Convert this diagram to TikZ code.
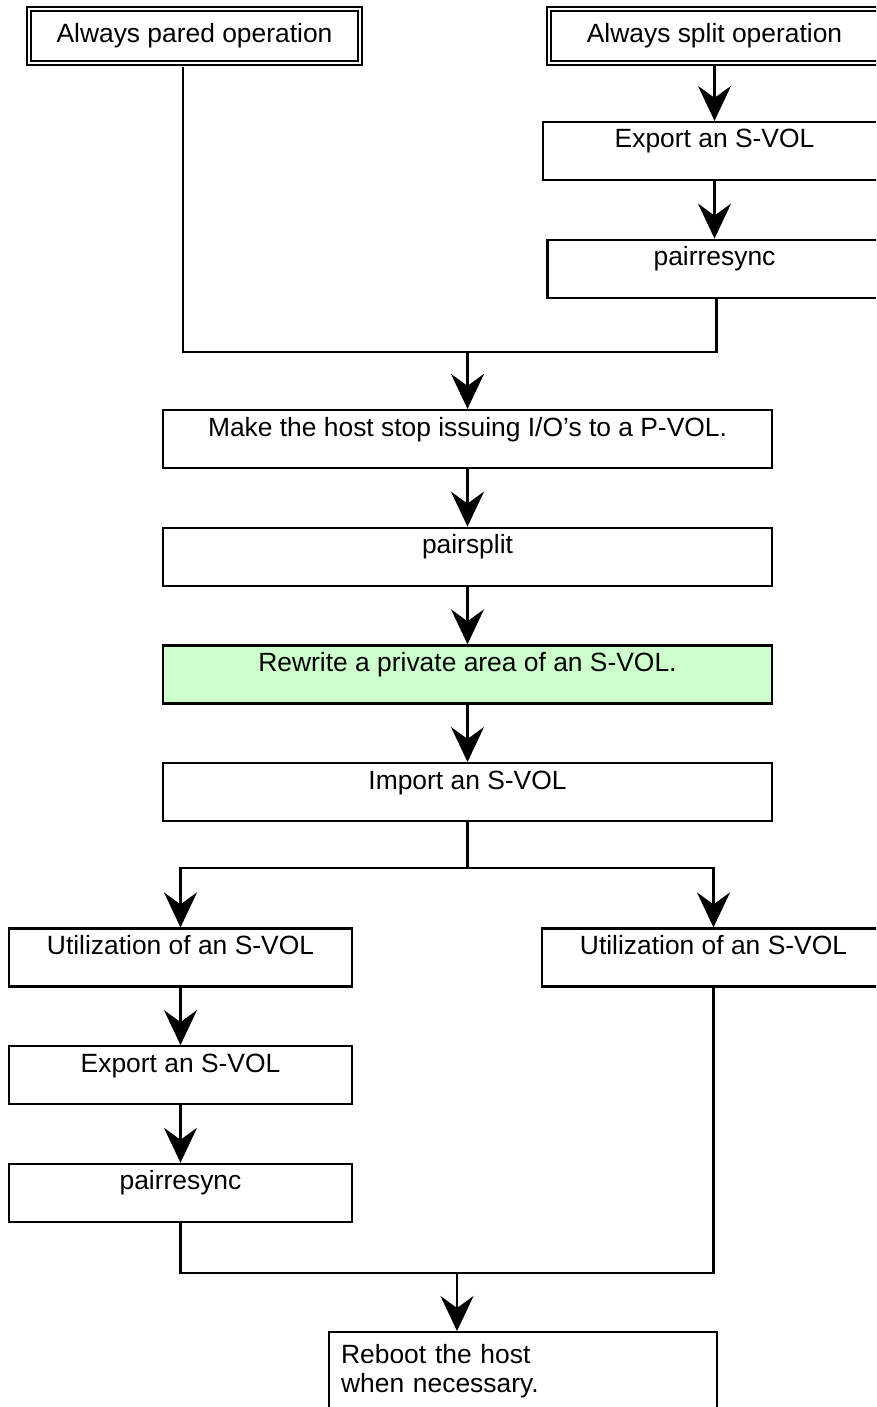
\documentclass[tikz,border=0pt]{standalone}
\usepackage{fontspec}
\setmainfont{Liberation Sans}
\usepackage{tikz}
\usetikzlibrary{positioning, arrows.meta}
\definecolor{StepGreen}{RGB}{204,255,204}

\begin{document}
\begin{tikzpicture}[x=1pt, y=-1pt, node distance=57.5pt,
  every node/.style={font=\fontsize{26.4pt}{29pt}\selectfont},
  box/.style={draw, line width=2.2pt, inner xsep=6pt, inner ysep=6pt, text height=20pt, text depth=26pt, minimum width=343pt},
  startbox/.style={draw, line width=2.4pt, double, double distance=2pt, minimum width=331pt, minimum height=54pt, text height=19pt, text depth=5pt},
  line/.style={line width=2.2pt},
  arrow/.style={line width=2.2pt, -{Stealth[length=35pt, width=33pt, inset=12pt]}}]

\useasboundingbox (0,0) rectangle (876,1407);
\clip (0,0) rectangle (876,1407);

% Two ways of operating
\node[startbox] (pared) at (194.5,36) {Always pared operation};
\node[startbox] (splitop) at (714.5,36) {Always split operation};

% Right branch before the split
\node[box] (exportR) at (714.5,151) {Export an S-VOL};
\node[box, minimum width=334pt, below=of exportR] (resyncR) {pairresync};

% Main column
\node[box, minimum width=609pt] (stopio) at (467.5,439) {Make the host stop issuing I/O’s to a P-VOL.};
\node[box, minimum width=609pt, below=of stopio] (pairsplit) {pairsplit};
\node[box, minimum width=609pt, fill=StepGreen, below=of pairsplit] (rewrite) {Rewrite a private area of an S-VOL.};
\node[box, minimum width=609pt, below=of rewrite] (import) {Import an S-VOL};

% Two uses of the S-VOL
\node[box] (useL) at (180.5,957.5) {Utilization of an S-VOL};
\node[box, below=of useL] (exportL) {Export an S-VOL};
\node[box, below=of exportL] (resyncL) {pairresync};
\node[box] (useR) at (713.5,957.5) {Utilization of an S-VOL};

\node[draw, line width=2.2pt, anchor=north west, align=left, text width=364pt, inner xsep=12pt, inner ysep=12pt, text height=19.3pt, text depth=70pt] (reboot) at (328,1331) {Reboot the host\\when necessary.};

\coordinate (mergeTop) at (467.5,352);
\coordinate (fork) at (467.5,868);
\coordinate (mergeLow) at (457,1273);

% Arrows down to the split
\draw[arrow] (splitop) -- (exportR);
\draw[arrow] (exportR) -- (resyncR);
\draw[line, shorten <=3pt] ([xshift=-11.5pt]pared.south) |- (mergeTop);
\draw[line] ([xshift=2pt]resyncR.south) |- (mergeTop);
\draw[arrow] (mergeTop) -- (stopio);

\draw[arrow] (stopio) -- (pairsplit);
\draw[arrow] (pairsplit) -- (rewrite);
\draw[arrow] (rewrite) -- (import);

% Fork after the import
\draw[line] (import) -- (fork);
\draw[arrow] (fork) -| (useL);
\draw[arrow] (fork) -| (useR);
\draw[arrow] (useL) -- (exportL);
\draw[arrow] (exportL) -- (resyncL);

% Back together for the reboot
\draw[line] (resyncL) |- (mergeLow);
\draw[line] (useR) |- (mergeLow);
\draw[arrow] (mergeLow) -- (mergeLow |- reboot.north);
\end{tikzpicture}
\end{document}
